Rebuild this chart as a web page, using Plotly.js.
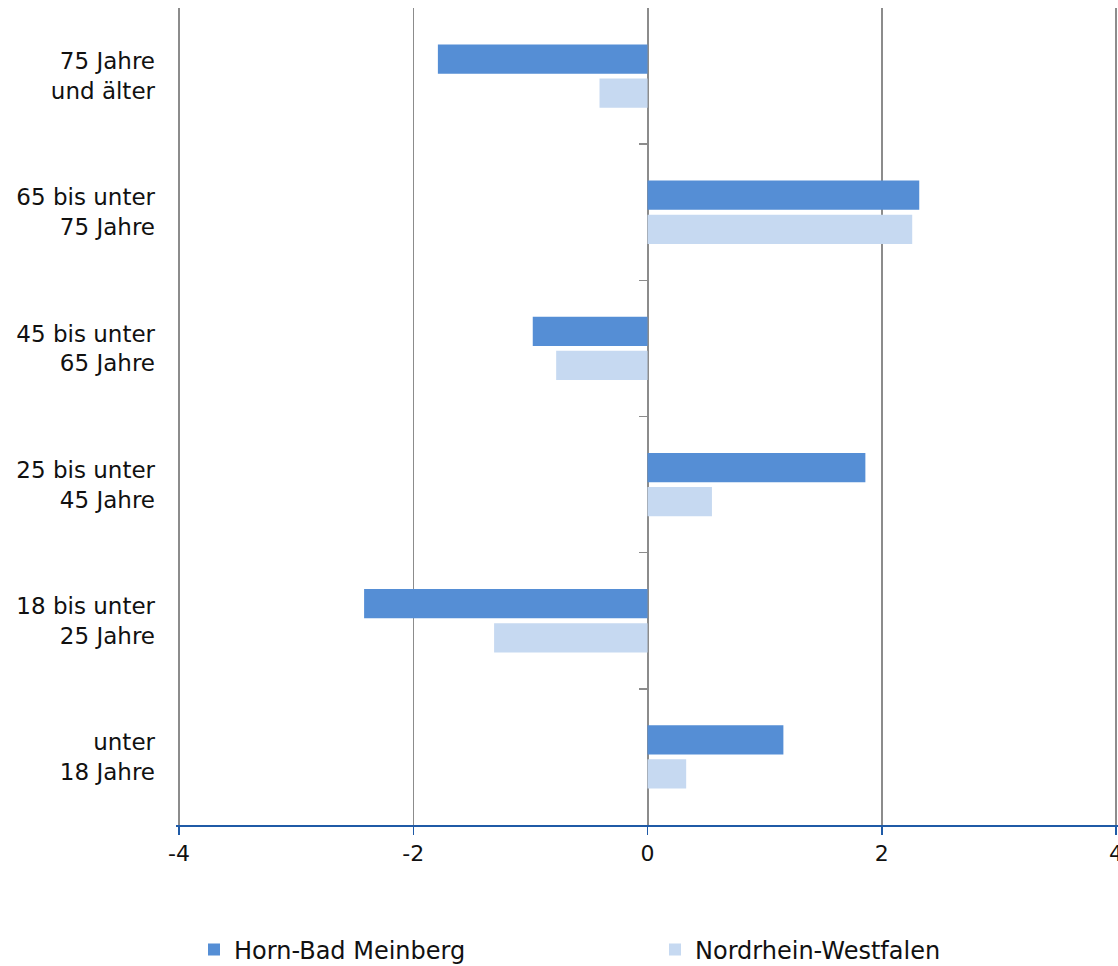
<!DOCTYPE html>
<html>
<head>
<meta charset="utf-8">
<script src="https://cdn.plot.ly/plotly-3.0.1.min.js"></script>
<style>html,body{margin:0;padding:0;background:#fff}#chart{width:1118px;height:966px}</style>
</head>
<body>
<div id="chart"></div>
<script>
const categories = ["75 Jahre<br>und älter", "65 bis unter<br>75 Jahre", "45 bis unter<br>65 Jahre", "25 bis unter<br>45 Jahre", "18 bis unter<br>25 Jahre", "unter<br>18 Jahre"];
const hornValues = [-1.79, 2.32, -0.98, 1.86, -2.42, 1.16];
const nrwValues = [-0.41, 2.26, -0.78, 0.55, -1.31, 0.33];
const xTicks = [-4, -2, 0, 2, 4];
const boundaryTicks = [0.5, 1.5, 2.5, 3.5, 4.5];

const fontFam = "'DejaVu Sans', sans-serif";
const txtColor = '#111111';

const data = [
  {type: 'bar', orientation: 'h', name: 'Horn-Bad Meinberg', y: categories, x: hornValues,
   marker: {color: '#558ED5'}, hoverinfo: 'x', legend: 'legend'},
  {type: 'bar', orientation: 'h', name: 'Nordrhein-Westfalen', y: categories, x: nrwValues,
   marker: {color: '#C6D9F1'}, hoverinfo: 'x', legend: 'legend2'},
  {type: 'scatter', mode: 'markers', x: [null], y: [null], yaxis: 'y2', showlegend: false, hoverinfo: 'skip'}
];

const legendFont = {size: 24, family: fontFam, color: txtColor};

const layout = {
  width: 1118, height: 966,
  margin: {l: 176, r: 0, t: 8, b: 141, autoexpand: false},
  paper_bgcolor: '#fff', plot_bgcolor: '#fff',
  font: {family: fontFam, color: txtColor, size: 22},
  barmode: 'group', bargap: 0.5, bargroupgap: 0.14,
  xaxis: {
    range: [-4.026, 4.017], tickvals: xTicks, ticktext: xTicks.map(String),
    showgrid: true, gridcolor: '#8c8c8c', gridwidth: 1.5,
    zeroline: true, zerolinecolor: '#8c8c8c', zerolinewidth: 2,
    showline: true, linecolor: '#1F5AA6', linewidth: 2,
    ticks: 'outside', tickcolor: '#1F5AA6', ticklen: 8, tickwidth: 1.5,
    ticklabeloverflow: 'allow',
    tickfont: {size: 22, family: fontFam, color: txtColor},
    fixedrange: true, automargin: false
  },
  yaxis: {
    autorange: 'reversed', type: 'category',
    showgrid: false, zeroline: false, showline: false, ticks: '',
    ticklabelstandoff: 20,
    tickfont: {size: 23, family: fontFam, color: txtColor},
    fixedrange: true, automargin: false
  },
  yaxis2: {
    overlaying: 'y', anchor: 'free', position: 0.4995, side: 'left',
    range: [5.5, -0.5], tickvals: boundaryTicks, showticklabels: false,
    ticks: 'outside', ticklen: 8, tickwidth: 1.5, tickcolor: '#8c8c8c',
    showgrid: false, zeroline: false, showline: false, fixedrange: true, automargin: false
  },
  legend: {
    orientation: 'h', xref: 'container', x: 194 / 1118, xanchor: 'left',
    yref: 'container', y: (966 - 950) / 966, yanchor: 'middle',
    font: legendFont
  },
  legend2: {
    orientation: 'h', xref: 'container', x: 655 / 1118, xanchor: 'left',
    yref: 'container', y: (966 - 950) / 966, yanchor: 'middle',
    font: legendFont
  },
  showlegend: true
};

Plotly.newPlot('chart', data, layout, {displayModeBar: false, staticPlot: true});
</script>
</body>
</html>
